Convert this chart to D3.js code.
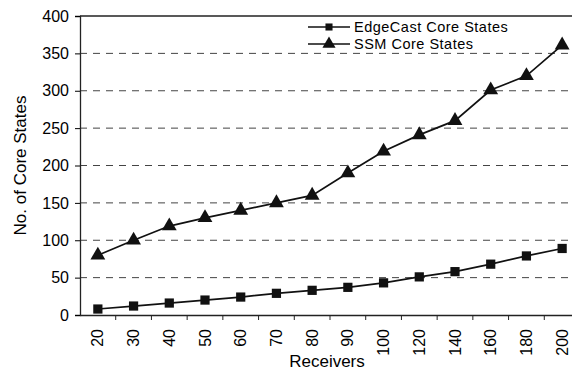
<!DOCTYPE html>
<html><head><meta charset="utf-8">
<script src="https://cdn.jsdelivr.net/npm/d3@7"></script>
<style>body{margin:0;background:#fff}svg{display:block}</style>
</head><body><svg id="c" width="572" height="371"></svg>
<script>
const categories = ["20","30","40","50","60","70","80","90","100","120","140","160","180","200"];
const edgecast = [8,12,16,20,24,29,33,37,43,51,58,68,79,89];
const ssm = [80,100,119,130,140,150,160,190,219,241,260,301,320,361];
const yTicks = [0,50,100,150,200,250,300,350,400];

const svg = d3.select("#c");
const L = 80, T = 16, B = 315, R = 580;
const x = d3.scaleBand().domain(categories).range([L, R]);
const y = d3.scaleLinear().domain([0,400]).range([B, T]);
const font = "Liberation Sans, Arial, sans-serif";

// grid
svg.append("g").selectAll("line").data(yTicks.filter(d=>d>0 && d<400)).join("line")
  .attr("x1", L).attr("x2", 572).attr("y1", d=>y(d)).attr("y2", d=>y(d))
  .attr("stroke", "#444").attr("stroke-width", 1).attr("stroke-dasharray", "7,6");
// top border
svg.append("line").attr("x1", L).attr("x2", 572).attr("y1", y(400)).attr("y2", y(400))
  .attr("stroke", "#222").attr("stroke-width", 1.3);

// y axis
const ya = svg.append("g").attr("transform", `translate(${L},0)`)
  .call(d3.axisLeft(y).tickValues(yTicks).tickSize(5).tickPadding(6));
ya.select(".domain").attr("stroke", "#222").attr("stroke-width", 1.3);
ya.selectAll("text").attr("font-family", font).attr("font-size", 16).attr("fill", "#000");

// x axis
const xa = svg.append("g").attr("transform", `translate(0,${B})`)
  .call(d3.axisBottom(x).tickSize(0).tickPadding(0));
xa.select(".domain").attr("stroke", "#222").attr("stroke-width", 1.3);
xa.selectAll("text").attr("font-family", font).attr("font-size", 16).attr("fill", "#000")
  .attr("text-anchor", "end").attr("dy", "0.35em")
  .attr("transform", "translate(0,14) rotate(-90)");
// boundary ticks
svg.append("g").selectAll("line").data(categories.slice(1)).join("line")
  .attr("x1", d=>x(d)).attr("x2", d=>x(d)).attr("y1", B).attr("y2", B+5)
  .attr("stroke", "#222").attr("stroke-width", 1);

const line = d3.line().x((d,i)=>x(categories[i]) + x.bandwidth()/2).y(d=>y(d));
function series(vals, shape, size) {
  svg.append("path").datum(vals).attr("d", line).attr("fill", "none")
    .attr("stroke", "#111").attr("stroke-width", 1.7);
  svg.append("g").selectAll("path").data(vals).join("path")
    .attr("transform", (d,i)=>`translate(${x(categories[i]) + x.bandwidth()/2},${y(d)})`)
    .attr("d", d3.symbol().type(shape).size(size)).attr("fill", "#111");
}
series(edgecast, d3.symbolSquare, 85);
series(ssm, d3.symbolTriangle, 95);

// legend
const leg = [["EdgeCast Core States", d3.symbolSquare, 50], ["SSM Core States", d3.symbolTriangle, 75]];
leg.forEach((e,i)=>{
  const ly = 27 + i*17;
  svg.append("line").attr("x1", 308).attr("x2", 350).attr("y1", ly).attr("y2", ly)
    .attr("stroke", "#111").attr("stroke-width", 1.6);
  svg.append("path").attr("transform", `translate(329,${ly})`)
    .attr("d", d3.symbol().type(e[1]).size(e[2])).attr("fill", "#111");
  svg.append("text").attr("x", 354).attr("y", ly).attr("dy", "0.33em")
    .attr("font-family", font).attr("font-size", 14.5).attr("letter-spacing", "0.5px")
    .attr("fill", "#000").text(e[0]);
});

// axis titles
svg.append("text").attr("x", 327).attr("y", 367).attr("text-anchor", "middle")
  .attr("font-family", font).attr("font-size", 17).attr("fill", "#000").text("Receivers");
svg.append("text").attr("transform", `translate(26,${(T+B)/2}) rotate(-90)`).attr("text-anchor", "middle")
  .attr("font-family", font).attr("font-size", 17).attr("fill", "#000").text("No. of Core States");
</script></body></html>
